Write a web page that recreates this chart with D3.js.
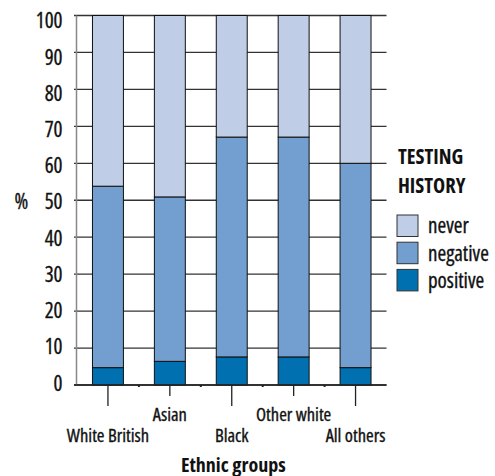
<!DOCTYPE html>
<html><head><meta charset="utf-8">
<script src="https://cdn.jsdelivr.net/npm/d3@7"></script>
<style>
body{margin:0;background:#fff;}
text{font-family:"Open Sans",sans-serif;font-stretch:condensed;fill:#111;}
text.r{stroke:#111;stroke-width:0.32px;}
text.b{font-weight:bold;}
</style></head>
<body><svg id="c" width="495" height="476"></svg>
<script>
const categories = ["White British","Asian","Black","Other white","All others"];
const positive = [4.7, 6.4, 7.6, 7.6, 4.7];
const negative = [49.1, 44.5, 59.5, 59.5, 55.3];
const never = [46.2, 49.1, 32.9, 32.9, 40.0];
const yTicks = [0,10,20,30,40,50,60,70,80,90,100];
const seriesNames = ["positive","negative","never"];
const colors = {never:"#bfcde6", negative:"#729fcf", positive:"#0070b0"};

const svg = d3.select("#c");
const L = 77, R = 386.5, T = 15.5, B = 385;
const x = d3.scaleBand().domain(categories).range([L, R]).paddingInner(0.5).paddingOuter(0.25);
const y = d3.scaleLinear().domain([0,100]).range([B, T]);
// tick labels in the original sit on a slightly tighter ladder than the gridlines
const yLab = d3.scaleLinear().domain([0,100]).range([383, 20.8]);

// gridlines
svg.append("g").selectAll("line").data(yTicks).join("line")
  .attr("x1", L-3).attr("x2", R).attr("y1", d=>y(d)).attr("y2", d=>y(d))
  .attr("stroke", "#333").attr("stroke-width", 1.3);
// y axis line
svg.append("line").attr("x1", L-0.5).attr("x2", L-0.5).attr("y1", T).attr("y2", B)
  .attr("stroke", "#888").attr("stroke-width", 1.5);

// tick labels
svg.append("g").selectAll("text").data(yTicks).join("text").attr("class","r")
  .attr("x", 62.5).attr("y", d=>yLab(d)+7.5).attr("text-anchor","end")
  .attr("font-size", 21).text(d=>d);
svg.append("text").attr("class","r").attr("x", 14.5).attr("y", yLab(50)+7.5).attr("font-size",21).text("%");

// stacked bars
const rows = categories.map((c,i)=>({cat:c, positive:positive[i], negative:negative[i], never:never[i]}));
const stack = d3.stack().keys(seriesNames)(rows);
svg.append("g").selectAll("g").data(stack).join("g")
  .attr("fill", d=>colors[d.key])
  .selectAll("rect").data(d=>d).join("rect")
  .attr("x", d=>x(d.data.cat)).attr("width", x.bandwidth())
  .attr("y", d=>y(d[1])).attr("height", d=>y(d[0])-y(d[1]))
  .attr("stroke", "#111").attr("stroke-width", 1);

// baseline
svg.append("line").attr("x1", L-3).attr("x2", R).attr("y1", B).attr("y2", B)
  .attr("stroke","#222").attr("stroke-width",1.5);
// minor ticks at band boundaries
const bounds = categories.slice(1).map(c=>x(c) - x.step()*x.paddingInner()/2);
svg.append("g").selectAll("rect").data(bounds).join("rect")
  .attr("x", d=>d-1).attr("y", B).attr("width",2).attr("height",2).attr("fill","#222");

// x ticks and labels
svg.append("g").selectAll("line").data(categories).join("line")
  .attr("x1", d=>x(d)+x.bandwidth()/2).attr("x2", d=>x(d)+x.bandwidth()/2)
  .attr("y1", B).attr("y2", (d,i)=> i%2===0 ? B+21 : B+11)
  .attr("stroke","#222").attr("stroke-width",1.3);
svg.append("g").selectAll("text").data(categories).join("text").attr("class","r")
  .attr("x", d=>x(d)+x.bandwidth()/2).attr("y", (d,i)=> i%2===0 ? 442 : 421)
  .attr("text-anchor","middle").attr("font-size",18.5).text(d=>d);
svg.append("text").attr("class","b").attr("x", 233.3).attr("y", 471.5).attr("text-anchor","middle")
  .attr("font-size",20).text("Ethnic groups");

// legend
svg.append("text").attr("class","b").attr("x",398).attr("y",163.5).attr("font-size",20.5).text("TESTING");
svg.append("text").attr("class","b").attr("x",398).attr("y",193).attr("font-size",20.5).text("HISTORY");
const legendItems = ["never","negative","positive"];
const lg = svg.append("g").selectAll("g").data(legendItems).join("g")
  .attr("transform",(d,i)=>`translate(397,${215 + i*27.2})`);
lg.append("rect").attr("width",21).attr("height",21.5).attr("fill",d=>colors[d])
  .attr("stroke","#333").attr("stroke-width",1);
lg.append("text").attr("class","r").attr("x",31).attr("y",18.3).attr("font-size",21).text(d=>d);
</script></body></html>
